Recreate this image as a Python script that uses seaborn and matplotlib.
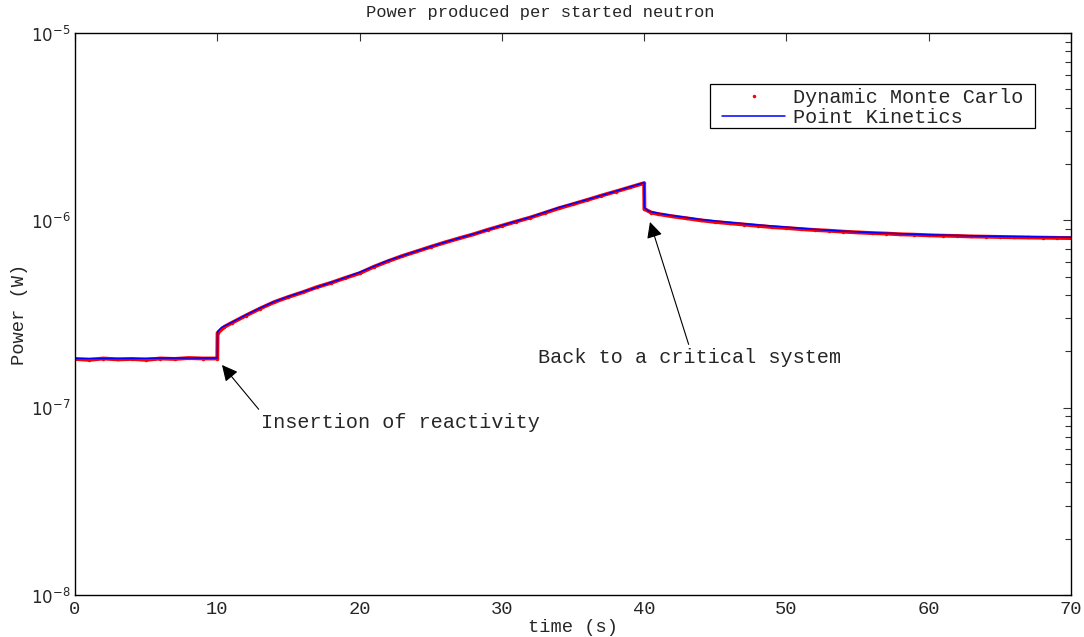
import matplotlib
matplotlib.use("Agg")
import matplotlib.pyplot as plt
from matplotlib.lines import Line2D
from matplotlib.patches import Rectangle
from matplotlib.ticker import LogLocator, FixedLocator, FixedFormatter, NullFormatter
import seaborn as sns
import pandas as pd

# ---- data ----
pk_time = [0, 2, 4, 6, 8, 10, 10.02, 10.3, 11, 12, 13, 14, 15, 16, 17, 18, 19, 20,
           22, 24, 26, 28, 30, 32, 34, 36, 38, 40, 40.02, 40.3, 41, 42, 44, 46, 48,
           50, 52, 54, 56, 58, 60, 62, 64, 66, 68, 70]
pk_power = [1.83e-7, 1.83e-7, 1.83e-7, 1.84e-7, 1.84e-7, 1.84e-7, 2.55e-7, 2.68e-7,
            2.85e-7, 3.12e-7, 3.40e-7, 3.68e-7, 3.92e-7, 4.15e-7, 4.40e-7, 4.66e-7,
            4.95e-7, 5.28e-7, 6.10e-7, 6.85e-7, 7.65e-7, 8.45e-7, 9.40e-7, 1.04e-6,
            1.17e-6, 1.29e-6, 1.43e-6, 1.59e-6, 1.17e-6, 1.12e-6, 1.09e-6, 1.06e-6,
            1.01e-6, 9.75e-7, 9.45e-7, 9.20e-7, 8.95e-7, 8.75e-7, 8.60e-7, 8.48e-7,
            8.38e-7, 8.30e-7, 8.24e-7, 8.20e-7, 8.16e-7, 8.12e-7]

dmc_time = [0, 1, 2, 3, 4, 5, 6, 7, 8, 9, 10, 10.02, 10.5, 11, 12, 13, 14, 15, 16, 17,
            18, 19, 20, 21, 22, 23, 24, 25, 26, 27, 28, 29, 30, 31, 32, 33, 34, 35, 36,
            37, 38, 39, 40, 40.02, 40.5, 41, 42, 43, 44, 45, 46, 47, 48, 49, 50, 51, 52,
            53, 54, 55, 56, 57, 58, 59, 60, 61, 62, 63, 64, 65, 66, 67, 68, 69, 70]
dmc_power = [1.82e-7, 1.80e-7, 1.83e-7, 1.81e-7, 1.82e-7, 1.80e-7, 1.83e-7, 1.82e-7,
             1.84e-7, 1.83e-7, 1.83e-7, 2.50e-7, 2.70e-7, 2.83e-7, 3.10e-7, 3.38e-7,
             3.66e-7, 3.90e-7, 4.13e-7, 4.40e-7, 4.64e-7, 4.93e-7, 5.22e-7, 5.65e-7,
             6.05e-7, 6.45e-7, 6.82e-7, 7.22e-7, 7.62e-7, 8.02e-7, 8.42e-7, 8.90e-7,
             9.36e-7, 9.85e-7, 1.035e-6, 1.095e-6, 1.16e-6, 1.22e-6, 1.285e-6, 1.355e-6,
             1.425e-6, 1.50e-6, 1.58e-6, 1.15e-6, 1.10e-6, 1.08e-6, 1.05e-6, 1.025e-6,
             1.00e-6, 9.80e-7, 9.65e-7, 9.50e-7, 9.35e-7, 9.20e-7, 9.10e-7, 8.98e-7,
             8.88e-7, 8.80e-7, 8.70e-7, 8.62e-7, 8.55e-7, 8.50e-7, 8.42e-7, 8.38e-7,
             8.32e-7, 8.28e-7, 8.25e-7, 8.20e-7, 8.18e-7, 8.15e-7, 8.12e-7, 8.10e-7,
             8.08e-7, 8.06e-7, 8.04e-7]

series_labels = ["Dynamic Monte Carlo", "Point Kinetics"]
xticks = [0, 10, 20, 30, 40, 50, 60, 70]
yticks = [1e-8, 1e-7, 1e-6, 1e-5]
ytick_labels = [r"$10^{-8}$", r"$10^{-7}$", r"$10^{-6}$", r"$10^{-5}$"]

# ---- style ----
sns.set_style("white")
plt.rcParams["font.family"] = ["Liberation Mono", "DejaVu Sans"]
plt.rcParams["mathtext.fontset"] = "dejavusans"

W, H = 1084, 637
fig = plt.figure(figsize=(W / 100, H / 100), dpi=100)
ax = fig.add_axes([75 / W, 1 - 595 / H, 996 / W, 562 / H])

dmc = pd.DataFrame({"t": dmc_time, "P": dmc_power})
pk = pd.DataFrame({"t": pk_time, "P": pk_power})

sns.lineplot(data=dmc, x="t", y="P", ax=ax, color="#ff0000", lw=2.8,
             marker=".", markersize=5, markeredgewidth=0,
             estimator=None, sort=False, legend=False)
sns.lineplot(data=pk, x="t", y="P", ax=ax, color="#0000ff", lw=1.1,
             estimator=None, sort=False, legend=False)

ax.set_yscale("log")
ax.set_xlim(0, 70)
ax.set_ylim(1e-8, 1e-5)
ax.xaxis.set_major_locator(FixedLocator(xticks))
ax.yaxis.set_major_locator(FixedLocator(yticks))
ax.yaxis.set_major_formatter(FixedFormatter(ytick_labels))
ax.yaxis.set_minor_locator(LogLocator(base=10, subs=range(2, 10)))
ax.yaxis.set_minor_formatter(NullFormatter())

for s in ax.spines.values():
    s.set_visible(True)
    s.set_color("black")
    s.set_linewidth(1.0)

ax.tick_params(axis="both", which="both", direction="in", top=True, right=True,
               color="#333333", width=0.8)
ax.tick_params(axis="both", which="major", length=6)
ax.tick_params(axis="y", which="minor", length=4)
ax.tick_params(axis="x", which="major", labelsize=13.5, pad=4)
ax.tick_params(axis="y", which="major", labelsize=12, pad=3)

ax.set_xlabel("time (s)", fontsize=13.5, labelpad=1)
ax.set_ylabel("Power (W)", fontsize=13.5, labelpad=2)
fig.text(540 / W, 1 - 13 / H, "Power produced per started neutron",
         ha="center", va="center", fontsize=12.3)

# legend (frame drawn separately to match the reference's wide side padding)
handles = [Line2D([], [], color="#ff0000", marker=".", markersize=3, linestyle="none"),
           Line2D([], [], color="#0000ff", lw=1.1)]
leg = fig.legend(handles, series_labels, loc="upper left",
                 bbox_to_anchor=(718 / W, 1 - 84 / H), borderaxespad=0,
                 fontsize=14.5, frameon=False, borderpad=0.2, labelspacing=0.05,
                 handlelength=3.15, handletextpad=0.35)
fig.add_artist(Rectangle((710 / W, 1 - 128 / H), 325 / W, 44 / H,
                         transform=fig.transFigure, facecolor="none",
                         edgecolor="black", lw=0.9, zorder=1))

arrow = dict(arrowstyle="-|>", color="black", lw=0.8, mutation_scale=24,
             shrinkA=0, shrinkB=0)
ax.annotate("Insertion of reactivity", xy=(10.33, 1.69e-7), xytext=(13.1, 8.38e-8),
            ha="left", va="center", fontsize=14.5,
            arrowprops=dict(arrow, relpos=(0.0, 1.0)))
ax.annotate("Back to a critical system", xy=(40.41, 9.8e-7), xytext=(43.2, 1.86e-7),
            ha="center", va="center", fontsize=14.5,
            arrowprops=dict(arrow, relpos=(0.5, 1.0)))

fig.savefig("out.png", dpi=100)
